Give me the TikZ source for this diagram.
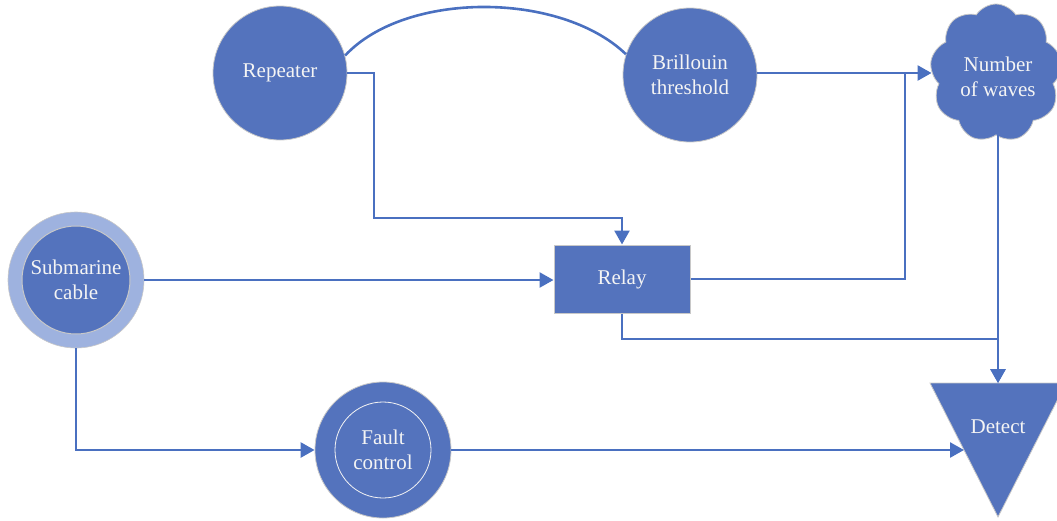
\documentclass[tikz,border=0pt]{standalone}
\usepackage{fontspec}
\setmainfont{Liberation Serif}
\usetikzlibrary{arrows.meta,shapes.symbols,calc}
\definecolor{mainblue}{HTML}{5473BD}
\definecolor{lineblue}{HTML}{4A70C0}
\definecolor{ringblue}{HTML}{9EB2DF}
\definecolor{rim}{HTML}{C8C8C8}
\definecolor{txt}{HTML}{F4F4F4}
\tikzset{
  label text/.style={text=txt,font=\fontsize{21}{25}\selectfont,align=center},
  disc/.style={circle,fill=mainblue,draw=rim,line width=0.8pt,minimum size=134pt,inner sep=0pt,label text},
  boxnode/.style={rectangle,fill=mainblue,draw=rim,line width=1pt,minimum width=136pt,minimum height=68pt,label text},
  wire/.style={draw=lineblue,line width=2.6pt},
  arr/.style={wire,-{Triangle[length=14pt,width=15pt]}}
}
\begin{document}
\begin{tikzpicture}[x=1pt,y=-1pt]
\useasboundingbox (0,0) rectangle (1057,520);

% nodes
\node[disc] (rep) at (280,73) {Repeater};
\node[disc] (bri) at (690,75) {Brillouin\\threshold};
\node[cloud,cloud puffs=9,cloud puff arc=115,cloud ignores aspect,fill=mainblue,draw=rim,line width=0.8pt,
      minimum width=132pt,minimum height=138pt] (cloud) at (996,73) {};
\node[label text] (cloudtxt) at (998,77) {Number\\of waves};
\node[circle,fill=ringblue,draw=rim,line width=0.6pt,minimum size=136pt] (sub) at (76,280) {};
\node[circle,fill=mainblue,draw=rim,line width=1pt,minimum size=108pt,inner sep=0pt,label text] (subin) at (sub.center) {Submarine\\cable};
\node[boxnode] (relay) at (622,279) {Relay};
\node[disc,minimum size=136pt] (fc) at (383,450) {};
\node[circle,draw=txt,line width=0.8pt,minimum size=96pt,inner sep=0pt,label text] (fcin) at (fc.center) {Fault\\control};

% inverted triangle for the detector
\coordinate (dtl) at (930,383);
\coordinate (dtr) at (1066,383);
\coordinate (dtb) at (998,517);
\fill[mainblue,draw=rim,line width=0.8pt] (dtl) -- (dtr) -- (dtb) -- cycle;
\node[label text] (det) at (998,427) {Detect};
\coordinate (dtop) at (998,383);
\coordinate (din) at ($(dtl)!0.5!(dtb)$);

% routing points
\coordinate (bend1) at (374,218);
\coordinate (jn) at (905,73);
\coordinate (low) at (998,339);

% connectors
\draw[wire] (rep.15) .. controls (405,-9) and (560,-9) .. (bri.162);
\draw[arr] (rep.east |- jn) -| (bend1) -| (relay.north);
\draw[arr] (bri.east |- jn) -- (jn -| cloud.west);
\draw[wire] (relay.east) -| (jn);
\draw[arr] (sub.east) -- (sub.east -| relay.west);
\draw[arr] (relay.south) |- (low) -- (dtop);
\draw[arr] (cloud.south -| dtop) -- (dtop);
\draw[arr] (sub.south) |- (fc.west);
\draw[arr] (fc.east) -- (fc.east -| din);
\end{tikzpicture}
\end{document}
